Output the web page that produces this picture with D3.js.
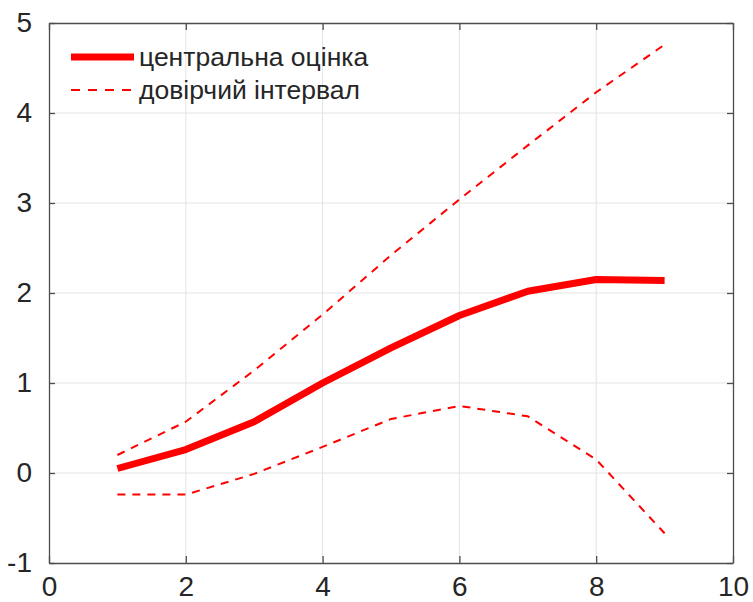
<!DOCTYPE html>
<html>
<head>
<meta charset="utf-8">
<script src="https://cdn.jsdelivr.net/npm/d3@7"></script>
<style>
  body { margin: 0; background: #fff; }
  text { font-family: "Liberation Sans", Arial, sans-serif; fill: #262626; }
</style>
</head>
<body>
<div id="chart"></div>
<script>
// data
const xs = [1, 2, 3, 4, 5, 6, 7, 8, 9];
const central = [0.05, 0.26, 0.57, 1.0, 1.39, 1.75, 2.02, 2.15, 2.14];
const upper = [0.2, 0.57, 1.14, 1.76, 2.42, 3.04, 3.64, 4.23, 4.76];
const lower = [-0.24, -0.24, -0.01, 0.29, 0.6, 0.745, 0.63, 0.15, -0.67];
const xTicks = [0, 2, 4, 6, 8, 10];
const yTicks = [-1, 0, 1, 2, 3, 4, 5];
const legendLabels = ["центральна оцінка", "довірчий інтервал"];

function draw() {
    const margin = { top: 23, right: 20, bottom: 39, left: 49 },
        width = 753 - margin.left - margin.right,
        height = 602 - margin.top - margin.bottom;

    const svg = d3.select("#chart")
        .append("svg")
        .attr("width", 753)
        .attr("height", 602)
        .append("g")
        .attr("transform", `translate(${margin.left},${margin.top})`);

    const x = d3.scaleLinear().domain([0, 10]).range([0, width]);
    const y = d3.scaleLinear().domain([-1, 5]).range([height, 0]);

    // grid
    svg.append("g").selectAll("line").data(xTicks.slice(1, -1)).join("line")
        .attr("x1", d => x(d)).attr("x2", d => x(d))
        .attr("y1", 0).attr("y2", height)
        .attr("stroke", "#e3e3e3").attr("stroke-width", 1);
    svg.append("g").selectAll("line").data(yTicks.slice(1, -1)).join("line")
        .attr("x1", 0).attr("x2", width)
        .attr("y1", d => y(d)).attr("y2", d => y(d))
        .attr("stroke", "#e3e3e3").attr("stroke-width", 1);

    // axes, ticks pointing inwards; plain hyphen for negatives like the original
    const fmt = d => String(d);
    const xAxis = svg.append("g").attr("transform", `translate(0,${height})`)
        .call(d3.axisBottom(x).tickValues(xTicks).tickFormat(fmt).tickSizeInner(-7).tickSizeOuter(0).tickPadding(13));
    const xTop = svg.append("g")
        .call(d3.axisTop(x).tickValues(xTicks).tickFormat("").tickSizeInner(-7).tickSizeOuter(0));
    const yAxis = svg.append("g")
        .call(d3.axisLeft(y).tickValues(yTicks).tickFormat(fmt).tickSizeInner(-6).tickSizeOuter(0).tickPadding(17));
    const yRight = svg.append("g").attr("transform", `translate(${width},0)`)
        .call(d3.axisRight(y).tickValues(yTicks).tickFormat("").tickSizeInner(-6).tickSizeOuter(0));

    [xAxis, xTop, yAxis, yRight].forEach(a => {
        a.select(".domain").attr("stroke", "#4d4d4d").attr("stroke-width", 1.3);
        a.selectAll(".tick line").attr("stroke", "#4d4d4d").attr("stroke-width", 1.3);
        a.selectAll(".tick text").style("font-size", "28px").attr("fill", "#262626");
    });

    const line = d3.line().x((d, i) => x(xs[i])).y(d => y(d));

    svg.append("path").datum(upper)
        .attr("fill", "none").attr("stroke", "red").attr("stroke-width", 2)
        .attr("stroke-dasharray", "8,7").attr("d", line);
    svg.append("path").datum(lower)
        .attr("fill", "none").attr("stroke", "red").attr("stroke-width", 2)
        .attr("stroke-dasharray", "8,7").attr("d", line);
    svg.append("path").datum(central)
        .attr("fill", "none").attr("stroke", "red").attr("stroke-width", 7)
        .attr("stroke-linejoin", "round").attr("d", line);

    // legend
    const legend = svg.append("g").attr("transform", "translate(22,34)");
    legend.append("line")
        .attr("x1", 0).attr("x2", 63).attr("y1", 0).attr("y2", 0)
        .attr("stroke", "red").attr("stroke-width", 7);
    legend.append("line")
        .attr("x1", 0).attr("x2", 63).attr("y1", 33).attr("y2", 33)
        .attr("stroke", "red").attr("stroke-width", 2).attr("stroke-dasharray", "9,8");
    legend.selectAll("text").data(legendLabels).join("text")
        .attr("x", 68).attr("y", (d, i) => i * 33 + 9)
        .style("font-size", "26.5px")
        .text(d => d);
}

window.onload = draw;
</script>
</body>
</html>
